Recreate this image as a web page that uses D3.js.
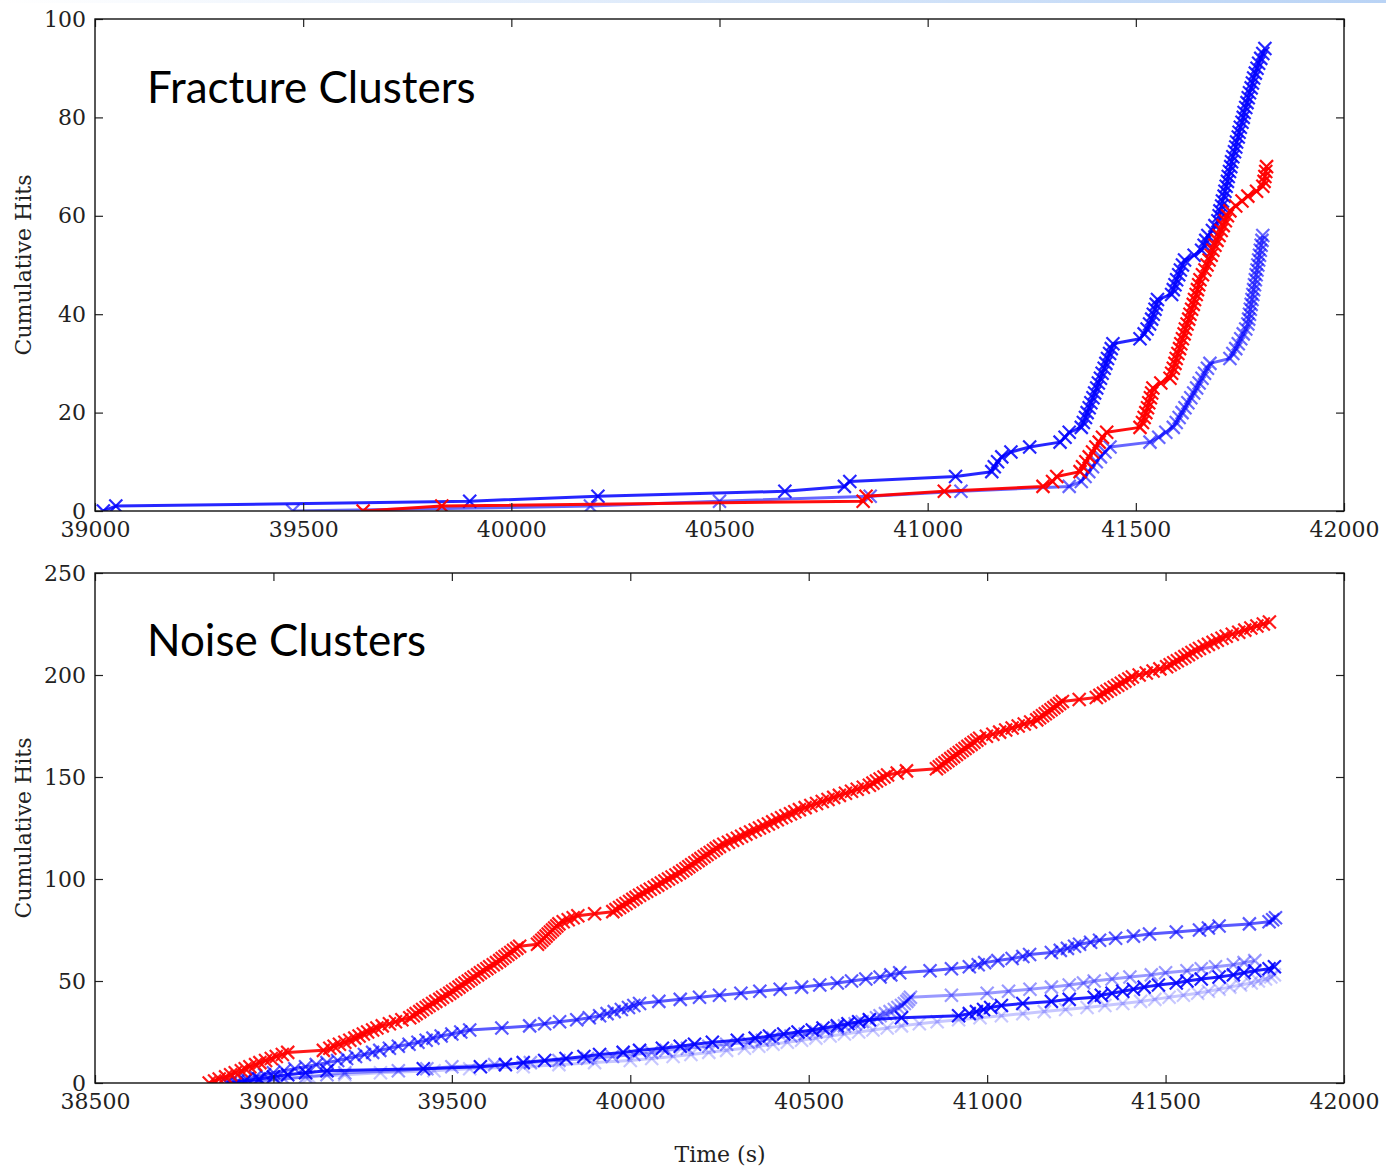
<!DOCTYPE html>
<html>
<head>
<meta charset="utf-8">
<script src="https://cdn.jsdelivr.net/npm/d3@7"></script>
<style>
  html, body { margin: 0; padding: 0; background: #fff; }
  svg { display: block; }
  .tick text { font-family: "DejaVu Serif", serif; font-size: 22px; fill: #222; }
  .axis path.domain { display: none; }
  .axis line { stroke: #222; stroke-width: 1.2; }
</style>
</head>
<body>
<svg id="chart" width="1386" height="1168"></svg>
<script>
// ---------- data: hit times (s); cumulative count is the position in each list ----------

// Fracture clusters
const fractureBlueA = [39020, 39050, 39900, 40208, 40657, 40800, 40813, 41067, 41154, 41160,
  41168, 41178, 41200, 41245, 41318, 41330, 41340, 41369, 41374, 41379,
  41383, 41388, 41392, 41397, 41401, 41406, 41410, 41415, 41419, 41424,
  41428, 41432, 41437, 41441, 41445, 41510, 41520, 41527, 41533, 41538,
  41542, 41546, 41549, 41552, 41586, 41590, 41594, 41598, 41603, 41607,
  41612, 41617, 41640, 41658, 41664, 41668, 41673, 41684, 41690, 41697,
  41700, 41702, 41706, 41708, 41712, 41714, 41717, 41720, 41722, 41725,
  41728, 41730, 41733, 41737, 41740, 41742, 41746, 41748, 41751, 41755,
  41758, 41760, 41764, 41767, 41770, 41773, 41777, 41780, 41783, 41787,
  41791, 41795, 41800, 41805, 41810];

const fractureBlueB = [39475, 40190, 40500, 40862, 41080, 41340, 41369, 41378, 41387, 41396,
  41405, 41415, 41426, 41438, 41534, 41555, 41572, 41590, 41597, 41604,
  41611, 41618, 41625, 41632, 41639, 41646, 41652, 41659, 41665, 41672,
  41678, 41726, 41733, 41740, 41746, 41752, 41758, 41764, 41769, 41771,
  41773, 41775, 41777, 41779, 41781, 41783, 41785, 41787, 41789, 41791,
  41793, 41795, 41797, 41799, 41801, 41803, 41805];

const fractureRed = [39644, 39833, 40845, 40852, 41040, 41277, 41300, 41310, 41366, 41372,
  41380, 41388, 41396, 41404, 41412, 41420, 41430, 41510, 41516, 41520,
  41524, 41528, 41531, 41535, 41538, 41541, 41560, 41582, 41586, 41590,
  41594, 41597, 41601, 41605, 41608, 41612, 41616, 41619, 41623, 41627,
  41630, 41634, 41638, 41641, 41645, 41648, 41651, 41654, 41660, 41666,
  41671, 41676, 41681, 41685, 41690, 41695, 41700, 41705, 41710, 41715,
  41720, 41726, 41740, 41755, 41769, 41790, 41805, 41808, 41810, 41812,
  41814];

// Noise clusters
const noiseRed = [38820, 38835, 38848, 38866, 38880, 38893, 38910, 38921, 38934, 38950,
  38962, 38978, 38994, 39008, 39025, 39040, 39140, 39158, 39170, 39185,
  39200, 39214, 39228, 39240, 39252, 39264, 39278, 39290, 39305, 39325,
  39342, 39360, 39382, 39392, 39400, 39410, 39418, 39428, 39436, 39446,
  39455, 39466, 39474, 39485, 39494, 39502, 39511, 39520, 39528, 39537,
  39546, 39554, 39562, 39572, 39580, 39589, 39598, 39606, 39616, 39625,
  39634, 39641, 39649, 39657, 39665, 39673, 39682, 39690, 39740, 39746,
  39752, 39758, 39764, 39770, 39776, 39782, 39788, 39794, 39800, 39812,
  39826, 39840, 39853, 39900, 39951, 39960, 39970, 39979, 39988, 39998,
  40007, 40016, 40026, 40036, 40046, 40056, 40067, 40077, 40087, 40097,
  40107, 40117, 40128, 40138, 40147, 40156, 40164, 40172, 40181, 40190,
  40198, 40207, 40215, 40224, 40233, 40241, 40250, 40262, 40275, 40287,
  40300, 40312, 40324, 40337, 40350, 40362, 40374, 40387, 40399, 40412,
  40424, 40436, 40449, 40461, 40474, 40490, 40506, 40522, 40538, 40554,
  40570, 40586, 40603, 40620, 40636, 40653, 40670, 40680, 40690, 40700,
  40711, 40721, 40748, 40774, 40858, 40866, 40874, 40882, 40890, 40898,
  40906, 40914, 40922, 40930, 40938, 40946, 40955, 40963, 40971, 40979,
  40998, 41016, 41035, 41052, 41070, 41087, 41104, 41122, 41139, 41147,
  41155, 41163, 41171, 41179, 41187, 41195, 41203, 41211, 41258, 41306,
  41316, 41326, 41336, 41346, 41356, 41366, 41376, 41386, 41397, 41407,
  41426, 41446, 41465, 41484, 41503, 41513, 41523, 41533, 41544, 41554,
  41564, 41574, 41585, 41595, 41608, 41620, 41633, 41645, 41658, 41670,
  41687, 41705, 41722, 41739, 41756, 41774, 41791];

const noiseBlueUpper = [38878, 38900, 38925, 38950, 38975, 39000, 39030, 39060, 39090, 39120,
  39150, 39180, 39205, 39230, 39255, 39278, 39298, 39325, 39350, 39380,
  39405, 39428, 39447, 39470, 39500, 39525, 39550, 39640, 39718, 39760,
  39802, 39850, 39885, 39914, 39935, 39955, 39975, 39995, 40010, 40026,
  40080, 40140, 40194, 40250, 40310, 40363, 40420, 40480, 40531, 40580,
  40620, 40660, 40700, 40730, 40755, 40840, 40900, 40950, 40975, 40993,
  41030, 41070, 41100, 41119, 41180, 41205, 41225, 41245, 41259, 41290,
  41315, 41360, 41410, 41455, 41530, 41595, 41620, 41650, 41735, 41790,
  41800, 41808];

const noiseBlueLower = [38870, 38920, 38960, 39000, 39040, 39090, 39150, 39420, 39580, 39650,
  39700, 39760, 39820, 39870, 39914, 39980, 40026, 40090, 40140, 40180,
  40230, 40300, 40350, 40390, 40430, 40470, 40510, 40540, 40580, 40610,
  40640, 40670, 40760, 40920, 40950, 40970, 40990, 41010, 41040, 41100,
  41180, 41230, 41300, 41320, 41350, 41380, 41410, 41440, 41480, 41530,
  41560, 41600, 41650, 41690, 41720, 41750, 41790, 41805];

const noiseBlueKink = [38900, 38960, 39030, 39090, 39150, 39200, 39350, 39430, 39500, 39620,
  39720, 39800, 39880, 39950, 40010, 40060, 40100, 40160, 40220, 40270,
  40330, 40370, 40400, 40450, 40490, 40520, 40550, 40580, 40600, 40630,
  40650, 40670, 40690, 40700, 40715, 40728, 40740, 40750, 40760, 40768,
  40775, 40780, 40785, 40900, 41000, 41060, 41120, 41180, 41230, 41270,
  41300, 41350, 41400, 41460, 41500, 41560, 41600, 41640, 41690, 41720,
  41750];

const noiseBlueFaint = [38880, 38940, 39000, 39100, 39200, 39300, 39450, 39550, 39700, 39800,
  39900, 40000, 40060, 40120, 40170, 40220, 40270, 40320, 40360, 40400,
  40440, 40480, 40520, 40560, 40600, 40640, 40680, 40720, 40760, 40810,
  40860, 40920, 40980, 41040, 41100, 41160, 41220, 41280, 41330, 41380,
  41430, 41470, 41510, 41550, 41590, 41620, 41650, 41680, 41710, 41740,
  41760, 41780, 41795, 41805];

// axis ticks
const topXTicks = [39000, 39500, 40000, 40500, 41000, 41500, 42000];
const topYTicks = [0, 20, 40, 60, 80, 100];
const bottomXTicks = [38500, 39000, 39500, 40000, 40500, 41000, 41500, 42000];
const bottomYTicks = [0, 50, 100, 150, 200, 250];

// ---------- drawing ----------
const svg = d3.select("#chart");

// pale banner strip across the top edge
const defs = svg.append("defs");
const grad = defs.append("linearGradient").attr("id", "topStrip");
grad.append("stop").attr("offset", "0%").attr("stop-color", "#ffffff");
grad.append("stop").attr("offset", "100%").attr("stop-color", "#b9d3f5");
svg.append("rect").attr("x", 0).attr("y", 0).attr("width", 1386).attr("height", 3)
  .attr("fill", "url(#topStrip)");

const markerPath = "M-6.5,-6.5L6.5,6.5M-6.5,6.5L6.5,-6.5";

function panel(cfg) {
  const x = d3.scaleLinear().domain(cfg.xDomain).range([95, 1344]);
  const y = d3.scaleLinear().domain(cfg.yDomain).range([cfg.bottom, cfg.top]);
  const g = svg.append("g");

  const clipId = "clip-" + cfg.id;
  defs.append("clipPath").attr("id", clipId)
    .append("rect").attr("x", 95).attr("y", cfg.top)
    .attr("width", 1344 - 95).attr("height", cfg.bottom - cfg.top);

  const plot = g.append("g").attr("clip-path", `url(#${clipId})`);
  const line = d3.line().x(d => x(d[0])).y(d => y(d[1]));

  cfg.series.forEach(s => {
    const pts = s.times.map((t, i) => [t, i]);
    plot.append("path").datum(pts)
      .attr("d", line)
      .attr("fill", "none")
      .attr("stroke", s.color)
      .attr("stroke-opacity", s.alpha)
      .attr("stroke-width", 3)
      .attr("stroke-linejoin", "round");
    plot.append("g").selectAll("path").data(pts).join("path")
      .attr("transform", d => `translate(${x(d[0])},${y(d[1])})`)
      .attr("d", markerPath)
      .attr("fill", "none")
      .attr("stroke", s.color)
      .attr("stroke-opacity", s.alpha)
      .attr("stroke-width", 2.2);
  });

  // axes: ticks point inward on all four sides
  g.append("g").attr("class", "axis").attr("transform", `translate(0,${cfg.bottom})`)
    .call(d3.axisBottom(x).tickValues(cfg.xTicks).tickSize(-8).tickPadding(10).tickFormat(d3.format("d")));
  g.append("g").attr("class", "axis").attr("transform", `translate(0,${cfg.top})`)
    .call(d3.axisTop(x).tickValues(cfg.xTicks).tickSize(-8).tickFormat(""));
  g.append("g").attr("class", "axis").attr("transform", "translate(95,0)")
    .call(d3.axisLeft(y).tickValues(cfg.yTicks).tickSize(-8).tickPadding(9).tickFormat(d3.format("d")));
  g.append("g").attr("class", "axis").attr("transform", "translate(1344,0)")
    .call(d3.axisRight(y).tickValues(cfg.yTicks).tickSize(-8).tickFormat(""));

  g.append("rect").attr("x", 95).attr("y", cfg.top)
    .attr("width", 1344 - 95).attr("height", cfg.bottom - cfg.top)
    .attr("fill", "none").attr("stroke", "#111").attr("stroke-width", 1.4);

  g.append("text")
    .attr("transform", `translate(31,${(cfg.top + cfg.bottom) / 2}) rotate(-90)`)
    .attr("text-anchor", "middle")
    .style("font-family", "'DejaVu Serif', serif").style("font-size", "22px").style("fill", "#222")
    .text("Cumulative Hits");

  g.append("text")
    .attr("x", 147).attr("y", cfg.titleY)
    .style("font-family", "Lato, 'Open Sans', sans-serif").style("font-size", "44px").style("fill", "#000")
    .text(cfg.title);

  return g;
}

panel({
  id: "fracture", top: 19, bottom: 511,
  xDomain: [39000, 42000], yDomain: [0, 100],
  xTicks: topXTicks, yTicks: topYTicks,
  title: "Fracture Clusters", titleY: 103,
  series: [
    { times: fractureBlueB, color: "#0000ff", alpha: 0.6 },
    { times: fractureBlueA, color: "#0000ff", alpha: 0.85 },
    { times: fractureRed, color: "#ff0000", alpha: 0.95 }
  ]
});

panel({
  id: "noise", top: 573, bottom: 1083,
  xDomain: [38500, 42000], yDomain: [0, 250],
  xTicks: bottomXTicks, yTicks: bottomYTicks,
  title: "Noise Clusters", titleY: 656,
  series: [
    { times: noiseBlueFaint, color: "#0000ff", alpha: 0.22 },
    { times: noiseBlueKink, color: "#0000ff", alpha: 0.4 },
    { times: noiseBlueLower, color: "#0000ff", alpha: 0.88 },
    { times: noiseBlueUpper, color: "#0000ff", alpha: 0.65 },
    { times: noiseRed, color: "#ff0000", alpha: 0.9 }
  ]
});

svg.append("text")
  .attr("x", 720).attr("y", 1162)
  .attr("text-anchor", "middle")
  .style("font-family", "'DejaVu Serif', serif").style("font-size", "22px").style("fill", "#222")
  .text("Time (s)");
</script>
</body>
</html>
